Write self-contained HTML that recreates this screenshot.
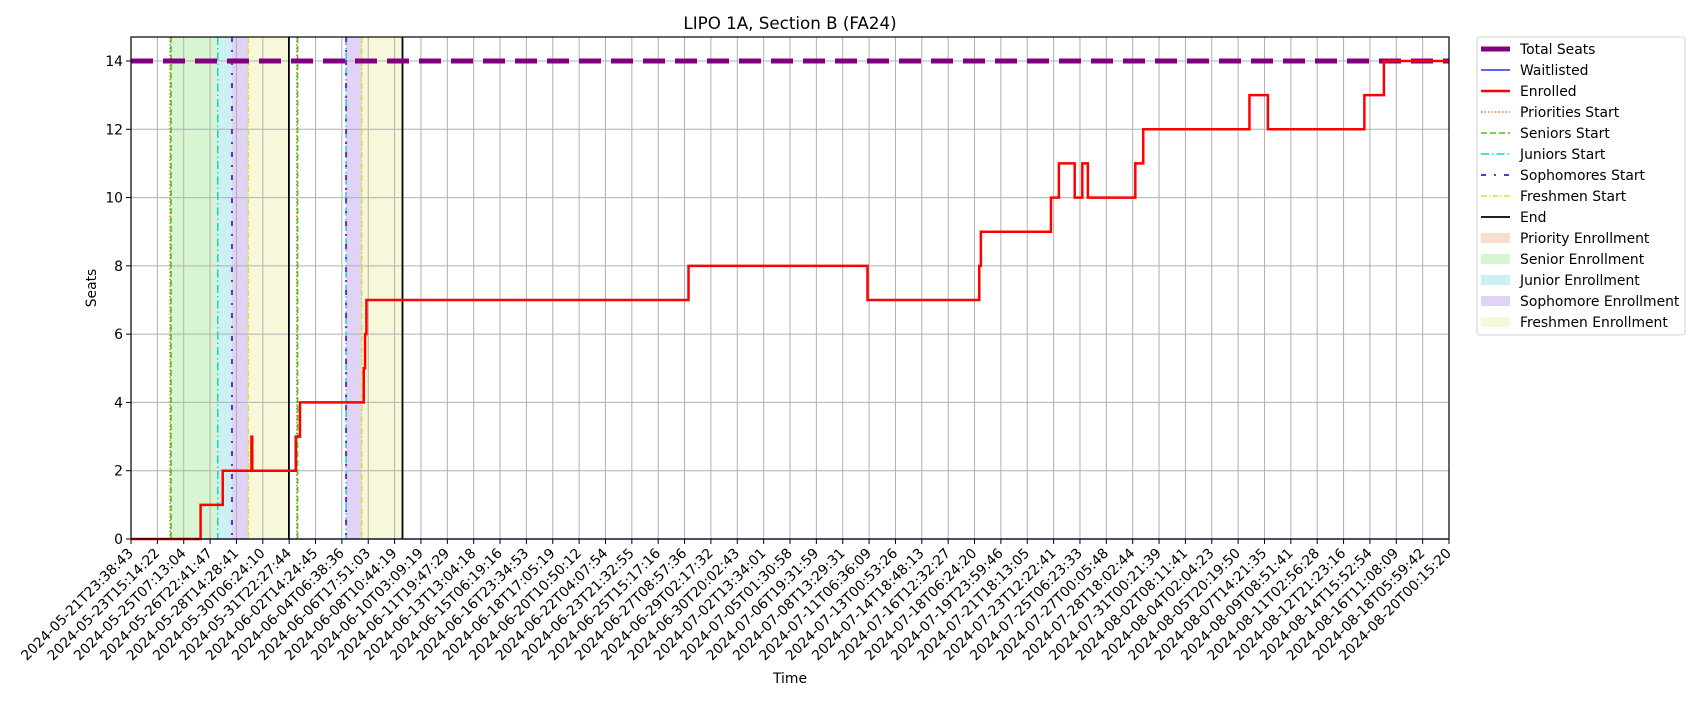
<!DOCTYPE html>
<html><head><meta charset="utf-8"><style>
body{margin:0;background:#fff;}
svg text{font-family:"DejaVu Sans","Liberation Sans",sans-serif;fill:#000;}
</style></head><body>
<svg id="chart" width="1700" height="700" xmlns="http://www.w3.org/2000/svg">
<rect width="1700" height="700" fill="#fff"/>
<g id="regions"></g>
<g id="grid"></g>
<g id="marks"></g>
<rect x="131" y="37" width="1318" height="502" fill="none" stroke="#000" stroke-width="1.2"/>
<g id="xticks"></g>
<g id="yticks"></g>
<text x="790" y="29" font-size="16.7" text-anchor="middle">LIPO 1A, Section B (FA24)</text>
<text x="790" y="683" font-size="13.9" text-anchor="middle">Time</text>
<text transform="translate(96,288) rotate(-90)" font-size="13.9" text-anchor="middle">Seats</text>
<g id="legend"></g>
</svg>
<script>
const tickLabels=["2024-05-21T23:38:43","2024-05-23T15:14:22","2024-05-25T07:13:04","2024-05-26T22:41:47","2024-05-28T14:28:41","2024-05-30T06:24:10","2024-05-31T22:27:44","2024-06-02T14:24:45","2024-06-04T06:38:36","2024-06-06T17:51:03","2024-06-08T10:44:19","2024-06-10T03:09:19","2024-06-11T19:47:29","2024-06-13T13:04:18","2024-06-15T06:19:16","2024-06-16T23:34:53","2024-06-18T17:05:19","2024-06-20T10:50:12","2024-06-22T04:07:54","2024-06-23T21:32:55","2024-06-25T15:17:16","2024-06-27T08:57:36","2024-06-29T02:17:32","2024-06-30T20:02:43","2024-07-02T13:34:01","2024-07-05T01:30:58","2024-07-06T19:31:59","2024-07-08T13:29:31","2024-07-11T06:36:09","2024-07-13T00:53:26","2024-07-14T18:48:13","2024-07-16T12:32:27","2024-07-18T06:24:20","2024-07-19T23:59:46","2024-07-21T18:13:05","2024-07-23T12:22:41","2024-07-25T06:23:33","2024-07-27T00:05:48","2024-07-28T18:02:44","2024-07-31T00:21:39","2024-08-02T08:11:41","2024-08-04T02:04:23","2024-08-05T20:19:50","2024-08-07T14:21:35","2024-08-09T08:51:41","2024-08-11T02:56:28","2024-08-12T21:23:16","2024-08-14T15:52:54","2024-08-16T11:08:09","2024-08-18T05:59:42","2024-08-20T00:15:20"];
const yTicks=[0,2,4,6,8,10,12,14];
const totalSeats=14;
// enrolled step changes (x in tick-index units), value holds until next x
const enrolledX=[0,2.64,3.48,4.57,4.60,6.25,6.41,8.83,8.88,8.93,21.15,27.94,32.18,32.24,34.9,35.2,35.8,36.09,36.3,38.1,38.4,42.43,43.13,46.79,47.53,50];
const enrolledY=[0,1,2,3,2,3,4,5,6,7,8,7,8,9,10,11,10,11,10,11,12,13,12,13,14,14];
const waitX=[0,50];
const waitY=[0,0];
const prioStart=[1.48,6.29];
const seniorStart=[1.52,6.32];
const juniorStart=[3.29,8.16];
const sophStart=[3.83,8.16];
const freshStart=[4.45,8.76];
const endTimes=[5.99,10.3];

const L=131,R=1449,T=37,B=539;
const xs=i=>L+(R-L)*i/50;
const ys=v=>B-(B-61)*v/14;
const NS="http://www.w3.org/2000/svg";
function mk(tag,attrs,parent){const e=document.createElementNS(NS,tag);for(const k in attrs)e.setAttribute(k,attrs[k]);parent.appendChild(e);return e;}
const gR=document.getElementById('regions'),gG=document.getElementById('grid'),gM=document.getElementById('marks'),gX=document.getElementById('xticks'),gY=document.getElementById('yticks'),gL=document.getElementById('legend');

const regionCols={prio:"#f8ddd3",senior:"#d8f5d2",junior:"#ccf1f1",soph:"#e0d3f5",fresh:"#f7f8da"};
function region(a,b,col,name){if(b<=a)return;const r=mk('rect',{x:xs(a),y:T,width:xs(b)-xs(a),height:B-T,fill:col},gR);

}
for(let k=0;k<2;k++){
 region(prioStart[k],seniorStart[k],regionCols.prio,'priority-enrollment-region');
 region(seniorStart[k],juniorStart[k],k===0?regionCols.senior:"#fff",'senior-enrollment-region');
 region(juniorStart[k],sophStart[k],regionCols.junior,'junior-enrollment-region');
 region(sophStart[k],freshStart[k],regionCols.soph,'sophomore-enrollment-region');
 region(freshStart[k],endTimes[k],regionCols.fresh,'freshmen-enrollment-region');
}
tickLabels.forEach((t,i)=>{const x=xs(i);
 const g=mk('line',{x1:x,x2:x,y1:T,y2:B,stroke:"#b0b0b0","stroke-width":1},gG);
 
 
 mk('line',{x1:x,x2:x,y1:B,y2:B+5,stroke:"#000","stroke-width":1},gX);
 const tx=mk('text',{transform:`translate(${x+3},${B+15}) rotate(-45)`,"font-size":"13.9","text-anchor":"end"},gX);
 tx.textContent=t;
 
 
});
yTicks.forEach(v=>{const y=ys(v);
 const g=mk('line',{x1:L,x2:R,y1:y,y2:y,stroke:"#b0b0b0","stroke-width":1},gG);
 
 
 mk('line',{x1:L-5,x2:L,y1:y,y2:y,stroke:"#000"},gY);
 const tx=mk('text',{x:L-8,y:y+5,"font-size":"13.9","text-anchor":"end"},gY);
 tx.textContent=v;
 
 
});
function vline(x,col,dash,w,name){const l=mk('line',{x1:xs(x),x2:xs(x),y1:T,y2:B,stroke:col,"stroke-width":w,"stroke-dasharray":dash},gM);
 
 }
for(let k=0;k<2;k++){
 vline(prioStart[k],"#e8743b","1.5 2",1.5,'priorities-start-line');
 vline(seniorStart[k],"#3ccc17","6 3",1.5,'seniors-start-line');
 vline(juniorStart[k],"#1ccfcf","8 3 1.5 3",1.5,'juniors-start-line');
 vline(sophStart[k],"#6a2bd4","5 8 2 8",2,'sophomores-start-line');
 vline(freshStart[k],"#e0e030","6 2 1.5 2",1.5,'freshmen-start-line');
 vline(endTimes[k],"#000","",1.8,'end-line');
}
const ts=mk('line',{x1:xs(0),x2:xs(50),y1:ys(totalSeats),y2:ys(totalSeats),stroke:"#800080","stroke-width":5,"stroke-dasharray":"22 10"},gM);


function stepPath(X,Y){let d=`M${xs(X[0])},${ys(Y[0])}`;for(let i=1;i<X.length;i++){d+=` L${xs(X[i])},${ys(Y[i-1])} L${xs(X[i])},${ys(Y[i])}`;}return d;}
const wl=mk('path',{d:stepPath(waitX,waitY),fill:"none",stroke:"#0000ff","stroke-width":1.2},gM);


const en=mk('path',{d:stepPath(enrolledX,enrolledY),fill:"none",stroke:"#ff0000","stroke-width":2.5},gM);


mk('rect',{x:1477,y:37,width:208,height:298,rx:3,fill:"#fff",stroke:"#d0d0d0"},gL);
const items=[
 ["Total Seats","line","#800080","",5],["Waitlisted","line","#0000ff","",1.2],["Enrolled","line","#ff0000","",2.5],
 ["Priorities Start","line","#e8743b","1.5 2",1.5],["Seniors Start","line","#3ccc17","6 3",1.5],["Juniors Start","line","#1ccfcf","8 3 1.5 3",1.5],
 ["Sophomores Start","line","#6a2bd4","5 8 2 8",2],["Freshmen Start","line","#e0e030","6 2 1.5 2",1.5],["End","line","#000","",1.8],
 ["Priority Enrollment","box","#f8ddd3"],["Senior Enrollment","box","#d8f5d2"],["Junior Enrollment","box","#ccf1f1"],
 ["Sophomore Enrollment","box","#e0d3f5"],["Freshmen Enrollment","box","#f7f8da"]];
items.forEach((it,i)=>{const y=49+i*21;
 const g=mk('g',{},gL);
 
 
 if(it[1]==="line")mk('line',{x1:1481,x2:1510,y1:y,y2:y,stroke:it[2],"stroke-width":it[4],"stroke-dasharray":it[3]},g);
 else mk('rect',{x:1481,y:y-5,width:29,height:10,fill:it[2]},g);
 const t=mk('text',{x:1520,y:y+5,"font-size":"13.9"},g);t.textContent=it[0];
});
</script>
</body></html>
